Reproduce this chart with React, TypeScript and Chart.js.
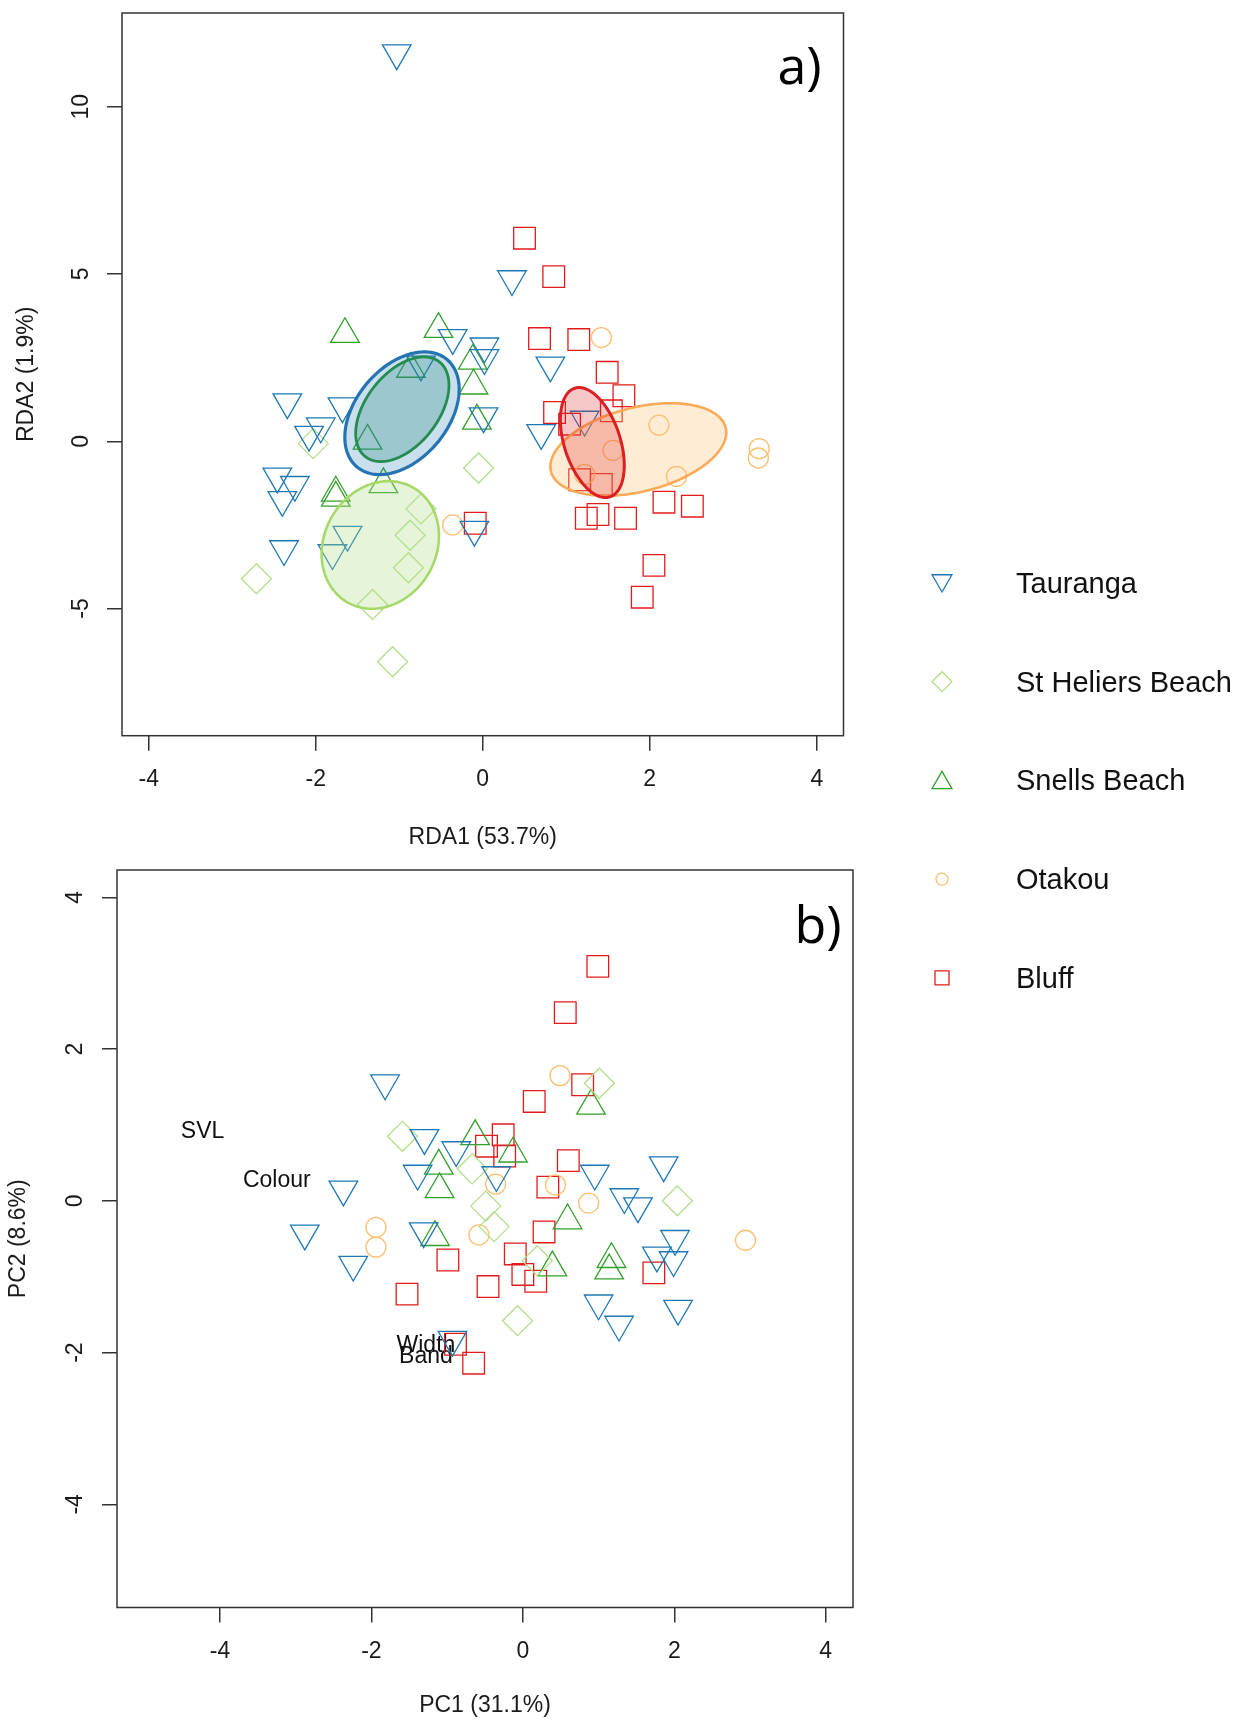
import React, { useEffect, useRef } from 'react';
import { Chart, registerables } from 'chart.js';

Chart.register(...registerables);

// ---------- data ----------
const siteNames = ['Tauranga', 'St Heliers Beach', 'Snells Beach', 'Otakou', 'Bluff'];

// Panel a) RDA site scores [RDA1, RDA2]
const rdaTauranga = [
  [-1.03, 11.6], [0.35, 4.85], [-0.36, 3.09], [0.02, 2.84], [0.02, 2.49], [0.81, 2.27],
  [-0.74, 2.3], [-2.34, 1.17], [-1.68, 1.05], [-1.94, 0.45], [-2.08, 0.2], [0.01, 0.75],
  [0.7, 0.25], [1.22, 0.65], [-2.46, -1.05], [-2.25, -1.3], [-2.4, -1.75], [-2.38, -3.22],
  [-1.62, -2.79], [-1.8, -3.34], [-0.1, -2.64],
];
const rdaStHeliers = [
  [-2.03, -0.07], [-0.05, -0.8], [-0.74, -2.02], [-0.87, -2.81], [-0.89, -3.78],
  [-1.32, -4.88], [-2.71, -4.11], [-1.08, -6.59],
];
const rdaSnells = [
  [-1.65, 3.2], [-0.53, 3.35], [-0.86, 2.16], [-0.12, 2.4], [-0.11, 1.66], [-0.07, 0.61],
  [-1.38, 0.01], [-1.19, -1.29], [-1.76, -1.54], [-1.76, -1.69],
];
const rdaOtakou = [
  [1.42, 3.1], [2.11, 0.48], [1.56, -0.27], [2.32, -1.05], [1.22, -0.99], [3.31, -0.22],
  [3.3, -0.5], [-0.36, -2.5],
];
const rdaBluff = [
  [0.5, 6.07], [0.85, 4.92], [0.68, 3.07], [1.15, 3.04], [1.49, 2.06], [1.69, 1.36],
  [1.54, 0.91], [0.86, 0.86], [1.04, 0.51], [1.16, -1.15], [1.42, -1.29], [1.24, -2.3],
  [1.38, -2.19], [1.71, -2.3], [2.17, -1.82], [2.51, -1.94], [2.05, -3.71], [1.91, -4.66],
  [-0.09, -2.45],
];

// Panel a) site ellipses: [centreX, centreY, axis1X, axis1Y, axis2X, axis2Y]
const rdaEllipseTauranga = [-0.967, 0.838, 0.539, 1.605, 0.422, -0.886];
const rdaEllipseSnells = [-0.963, 0.958, 0.443, 1.416, 0.34, -0.664];
const rdaEllipseStHeliers = [-1.227, -3.099, 0.395, 1.713, 0.581, -0.838];
const rdaEllipseOtakou = [1.863, -0.246, 1.046, 0.653, 0.122, -1.219];
const rdaEllipseBluff = [1.312, -0.039, -0.211, 1.623, 0.319, 0.259];

// Panel b) PCA scores [PC1, PC2]
const pcaTauranga = [
  [-1.82, 1.55], [-1.3, 0.83], [-0.88, 0.67], [-1.39, 0.36], [-2.37, 0.15], [-0.35, 0.34],
  [0.95, 0.36], [1.86, 0.47], [1.34, 0.05], [1.52, -0.07], [-1.31, -0.4], [-2.24, -0.84],
  [2.01, -0.5], [1.77, -0.72], [1.99, -0.78], [1.0, -1.35], [1.27, -1.63], [2.05, -1.42],
  [-0.93, -1.83], [-2.88, -0.43],
];
const pcaStHeliers = [
  [-1.59, 0.85], [1.01, 1.55], [-0.67, 0.42], [-0.49, -0.07], [-0.38, -0.34], [2.04, 0.0],
  [0.19, -0.79], [-0.07, -1.58],
];
const pcaSnells = [
  [0.9, 1.25], [-0.63, 0.85], [-0.13, 0.62], [-1.11, 0.46], [-1.1, 0.15], [0.59, -0.26],
  [-1.16, -0.48], [0.39, -0.88], [1.17, -0.77], [1.14, -0.92],
];
const pcaOtakou = [
  [0.49, 1.65], [-0.36, 0.22], [0.43, 0.21], [0.87, -0.03], [-1.94, -0.35], [-1.94, -0.61],
  [-0.58, -0.45], [2.94, -0.52],
];
const pcaBluff = [
  [0.99, 3.09], [0.56, 2.48], [0.79, 1.53], [0.15, 1.31], [-0.26, 0.87], [-0.48, 0.72],
  [-0.24, 0.59], [0.6, 0.53], [0.33, 0.18], [0.28, -0.41], [-0.1, -0.7], [0.0, -0.97],
  [0.17, -1.06], [1.73, -0.95], [-0.99, -0.78], [-1.53, -1.23], [-0.46, -1.13],
  [-0.89, -1.89], [-0.65, -2.14],
];

// Panel b) variable labels
const pcaVarNames = ['SVL', 'Colour', 'Band', 'Width'];
const pcaVarX = [-4.23, -3.25, -1.28, -1.28];
const pcaVarY = [0.91, 0.26, -2.05, -1.91];

// Axes
const rdaXTicks = [-4, -2, 0, 2, 4];
const rdaYTicks = [-5, 0, 5, 10];
const pcaXTicks = [-4, -2, 0, 2, 4];
const pcaYTicks = [-4, -2, 0, 2, 4];
const rdaXRange = [-4.32, 4.32];
const rdaYRange = [-8.8, 12.8];
const pcaXRange = [-5.36, 4.36];
const pcaYRange = [-5.36, 4.36];
const rdaXTitle = 'RDA1 (53.7%)';
const rdaYTitle = 'RDA2 (1.9%)';
const pcaXTitle = 'PC1 (31.1%)';
const pcaYTitle = 'PC2 (8.6%)';

// ---------- styles ----------
const FONT = '"Liberation Sans", Arial, Helvetica, sans-serif';
const SITE_STYLE = [
  { color: '#1F78B4', pointStyle: 'triangle', rotation: 180, radius: 16.5, legendRadius: 11.5 },
  { color: '#B2DF8A', pointStyle: 'rectRot', rotation: 0, radius: 15, legendRadius: 10 },
  { color: '#33A02C', pointStyle: 'triangle', rotation: 0, radius: 16.5, legendRadius: 11.5 },
  { color: '#FDBF6F', pointStyle: 'circle', rotation: 0, radius: 10, legendRadius: 6 },
  { color: '#E31A1C', pointStyle: 'rect', rotation: 0, radius: 15.3, legendRadius: 9.9 },
];
const ELLIPSES = [
  { p: rdaEllipseTauranga, stroke: '#2473b3', fill: 'rgba(31,120,180,0.24)', width: 3.2 },
  { p: rdaEllipseSnells, stroke: '#238c4e', fill: 'rgba(40,140,125,0.28)', width: 2.8 },
  { p: rdaEllipseStHeliers, stroke: '#a6d96a', fill: 'rgba(178,223,138,0.32)', width: 2.6 },
  { p: rdaEllipseOtakou, stroke: '#fdaa58', fill: 'rgba(253,191,111,0.30)', width: 2.6 },
  { p: rdaEllipseBluff, stroke: '#db1f22', fill: 'rgba(227,26,28,0.24)', width: 3 },
];

function drawSymbol(ctx: CanvasRenderingContext2D, style: any, x: number, y: number, r: number) {
  ctx.beginPath();
  if (style.pointStyle === 'triangle') {
    let rad = (style.rotation * Math.PI) / 180;
    ctx.moveTo(x + Math.sin(rad) * r, y - Math.cos(rad) * r);
    rad += (2 * Math.PI) / 3;
    ctx.lineTo(x + Math.sin(rad) * r, y - Math.cos(rad) * r);
    rad += (2 * Math.PI) / 3;
    ctx.lineTo(x + Math.sin(rad) * r, y - Math.cos(rad) * r);
    ctx.closePath();
  } else if (style.pointStyle === 'rectRot') {
    ctx.moveTo(x - r, y);
    ctx.lineTo(x, y - r);
    ctx.lineTo(x + r, y);
    ctx.lineTo(x, y + r);
    ctx.closePath();
  } else if (style.pointStyle === 'circle') {
    ctx.arc(x, y, r, 0, Math.PI * 2);
  } else {
    const s = r * Math.SQRT1_2;
    ctx.rect(x - s, y - s, 2 * s, 2 * s);
  }
  ctx.stroke();
}

function makeDatasets(series: number[][][]) {
  return series.map((pts, i) => {
    const st = SITE_STYLE[i];
    return {
      label: siteNames[i],
      data: pts.map(([x, y]) => ({ x, y })),
      pointStyle: st.pointStyle,
      pointRotation: st.rotation,
      pointRadius: st.radius,
      pointBorderWidth: 1.3,
      borderColor: st.color,
      pointBorderColor: st.color,
      backgroundColor: 'rgba(0,0,0,0)',
      pointBackgroundColor: 'rgba(0,0,0,0)',
      showLine: false,
    };
  });
}

function makeScales(o: any) {
  const tickFont = { family: FONT, size: 23 };
  return {
    x: {
      type: 'linear',
      position: 'bottom',
      min: o.xRange[0],
      max: o.xRange[1],
      afterBuildTicks: (ax: any) => {
        ax.ticks = o.xTicks.map((v: number) => ({ value: v }));
      },
      afterFit: (ax: any) => {
        ax.height = o.xAxisHeight;
        ax.paddingLeft = 0;
        ax.paddingRight = 0;
        ax.paddingTop = 0;
        ax.paddingBottom = 0;
      },
      grid: { display: true, drawOnChartArea: false, drawTicks: true, tickLength: 15, color: '#333', lineWidth: 1.5 },
      border: { display: false },
      ticks: { font: tickFont, color: '#1a1a1a', padding: 15.2, minRotation: 0, maxRotation: 0, autoSkip: false },
      title: { display: true, text: o.xTitle, font: tickFont, color: '#1a1a1a', padding: 0 },
    },
    y: {
      type: 'linear',
      position: 'left',
      min: o.yRange[0],
      max: o.yRange[1],
      afterBuildTicks: (ax: any) => {
        ax.ticks = o.yTicks.map((v: number) => ({ value: v }));
      },
      afterFit: (ax: any) => {
        ax.width = o.yAxisWidth;
        ax.paddingLeft = 0;
        ax.paddingRight = 0;
        ax.paddingTop = 0;
        ax.paddingBottom = 0;
      },
      grid: { display: true, drawOnChartArea: false, drawTicks: true, tickLength: 15, color: '#333', lineWidth: 1.5 },
      border: { display: false },
      ticks: { font: tickFont, color: '#1a1a1a', padding: o.yTickPad, minRotation: 90, maxRotation: 90, crossAlign: 'center', autoSkip: false },
      title: { display: true, text: o.yTitle, font: tickFont, color: '#1a1a1a', padding: { top: o.yTitlePad, bottom: 0 } },
    },
  };
}

const boxAndTag = (tag: string, tagDx: number, tagDy: number) => ({
  id: 'boxAndTag',
  afterDraw(chart: any) {
    const { ctx, chartArea: a } = chart;
    ctx.save();
    ctx.strokeStyle = '#333';
    ctx.lineWidth = 1.5;
    ctx.strokeRect(a.left, a.top, a.right - a.left, a.bottom - a.top);
    ctx.fillStyle = '#000';
    ctx.font = `52px "Open Sans", "Noto Sans", sans-serif`;
    ctx.textAlign = 'center';
    ctx.textBaseline = 'middle';
    ctx.fillText(tag, a.right - tagDx, a.top + tagDy);
    ctx.restore();
  },
});

const ellipsePlugin = {
  id: 'ellipses',
  afterDatasetsDraw(chart: any) {
    const { ctx, chartArea: a, scales } = chart;
    const sx = scales.x;
    const sy = scales.y;
    ctx.save();
    ctx.beginPath();
    ctx.rect(a.left, a.top, a.right - a.left, a.bottom - a.top);
    ctx.clip();
    ELLIPSES.forEach((e) => {
      const [cx, cy, ux, uy, vx, vy] = e.p;
      ctx.beginPath();
      for (let k = 0; k <= 200; k++) {
        const t = (k / 200) * Math.PI * 2;
        const px = sx.getPixelForValue(cx + ux * Math.cos(t) + vx * Math.sin(t));
        const py = sy.getPixelForValue(cy + uy * Math.cos(t) + vy * Math.sin(t));
        if (k === 0) ctx.moveTo(px, py);
        else ctx.lineTo(px, py);
      }
      ctx.closePath();
      ctx.fillStyle = e.fill;
      ctx.fill();
      ctx.lineWidth = e.width;
      ctx.strokeStyle = e.stroke;
      ctx.stroke();
    });
    ctx.restore();
  },
};

const legendPlugin = {
  id: 'siteLegend',
  afterDraw(chart: any) {
    const { ctx } = chart;
    ctx.save();
    ctx.lineWidth = 1.3;
    siteNames.forEach((name, i) => {
      const st = SITE_STYLE[i];
      const y = 583 + i * 98.7;
      let dy = 0;
      if (st.pointStyle === 'triangle') dy = st.rotation === 180 ? -2.5 : 2.5;
      ctx.strokeStyle = st.color;
      drawSymbol(ctx, st, 942, y + dy, st.legendRadius);
      ctx.fillStyle = '#111';
      ctx.font = `29px ${FONT}`;
      ctx.textAlign = 'left';
      ctx.textBaseline = 'middle';
      ctx.fillText(name, 1016, y + 2);
    });
    ctx.restore();
  },
};

const varLabelPlugin = {
  id: 'varLabels',
  beforeDatasetsDraw(chart: any) {
    const { ctx, scales } = chart;
    ctx.save();
    ctx.fillStyle = '#111';
    ctx.font = `23px ${FONT}`;
    ctx.textAlign = 'center';
    ctx.textBaseline = 'middle';
    pcaVarNames.forEach((n, i) => {
      ctx.fillText(n, scales.x.getPixelForValue(pcaVarX[i]), scales.y.getPixelForValue(pcaVarY[i]));
    });
    ctx.restore();
  },
};

export default function App() {
  const c1 = useRef<HTMLCanvasElement>(null);
  const c2 = useRef<HTMLCanvasElement>(null);

  useEffect(() => {
    const common = {
      responsive: false,
      animation: false,
      devicePixelRatio: 1,
      events: [],
      plugins: { legend: { display: false }, tooltip: { enabled: false } },
    };
    const chartA = new Chart(c1.current as HTMLCanvasElement, {
      type: 'scatter',
      data: { datasets: makeDatasets([rdaTauranga, rdaStHeliers, rdaSnells, rdaOtakou, rdaBluff]) as any },
      options: {
        ...common,
        layout: { autoPadding: false, padding: { left: 0, top: 13, right: 402.5, bottom: 148.2 } },
        scales: makeScales({
          xRange: rdaXRange, yRange: rdaYRange, xTicks: rdaXTicks, yTicks: rdaYTicks,
          xTitle: rdaXTitle, yTitle: rdaYTitle, xAxisHeight: 116.1, yAxisWidth: 122,
          yTickPad: 12.5, yTitlePad: 12.9,
        }),
      } as any,
      plugins: [ellipsePlugin, boxAndTag('a)', 44, 56), legendPlugin],
    });
    const chartB = new Chart(c2.current as HTMLCanvasElement, {
      type: 'scatter',
      data: { datasets: makeDatasets([pcaTauranga, pcaStHeliers, pcaSnells, pcaOtakou, pcaBluff]) as any },
      options: {
        ...common,
        layout: { autoPadding: false, padding: { left: 0, top: 20, right: 393, bottom: 5.2 } },
        scales: makeScales({
          xRange: pcaXRange, yRange: pcaYRange, xTicks: pcaXTicks, yTicks: pcaYTicks,
          xTitle: pcaXTitle, yTitle: pcaYTitle, xAxisHeight: 112.3, yAxisWidth: 117,
          yTickPad: 16.5, yTitlePad: 5.2,
        }),
      } as any,
      plugins: [varLabelPlugin, boxAndTag('b)', 35, 58)],
    });
    return () => {
      chartA.destroy();
      chartB.destroy();
    };
  }, []);

  return (
    <div style={{ position: 'absolute', left: 0, top: 0, width: 1246, height: 1725, background: '#fff', overflow: 'hidden' }}>
      <canvas ref={c1} width={1246} height={1000} style={{ position: 'absolute', left: 0, top: 0 }} />
      <canvas ref={c2} width={1246} height={875} style={{ position: 'absolute', left: 0, top: 850 }} />
    </div>
  );
}
